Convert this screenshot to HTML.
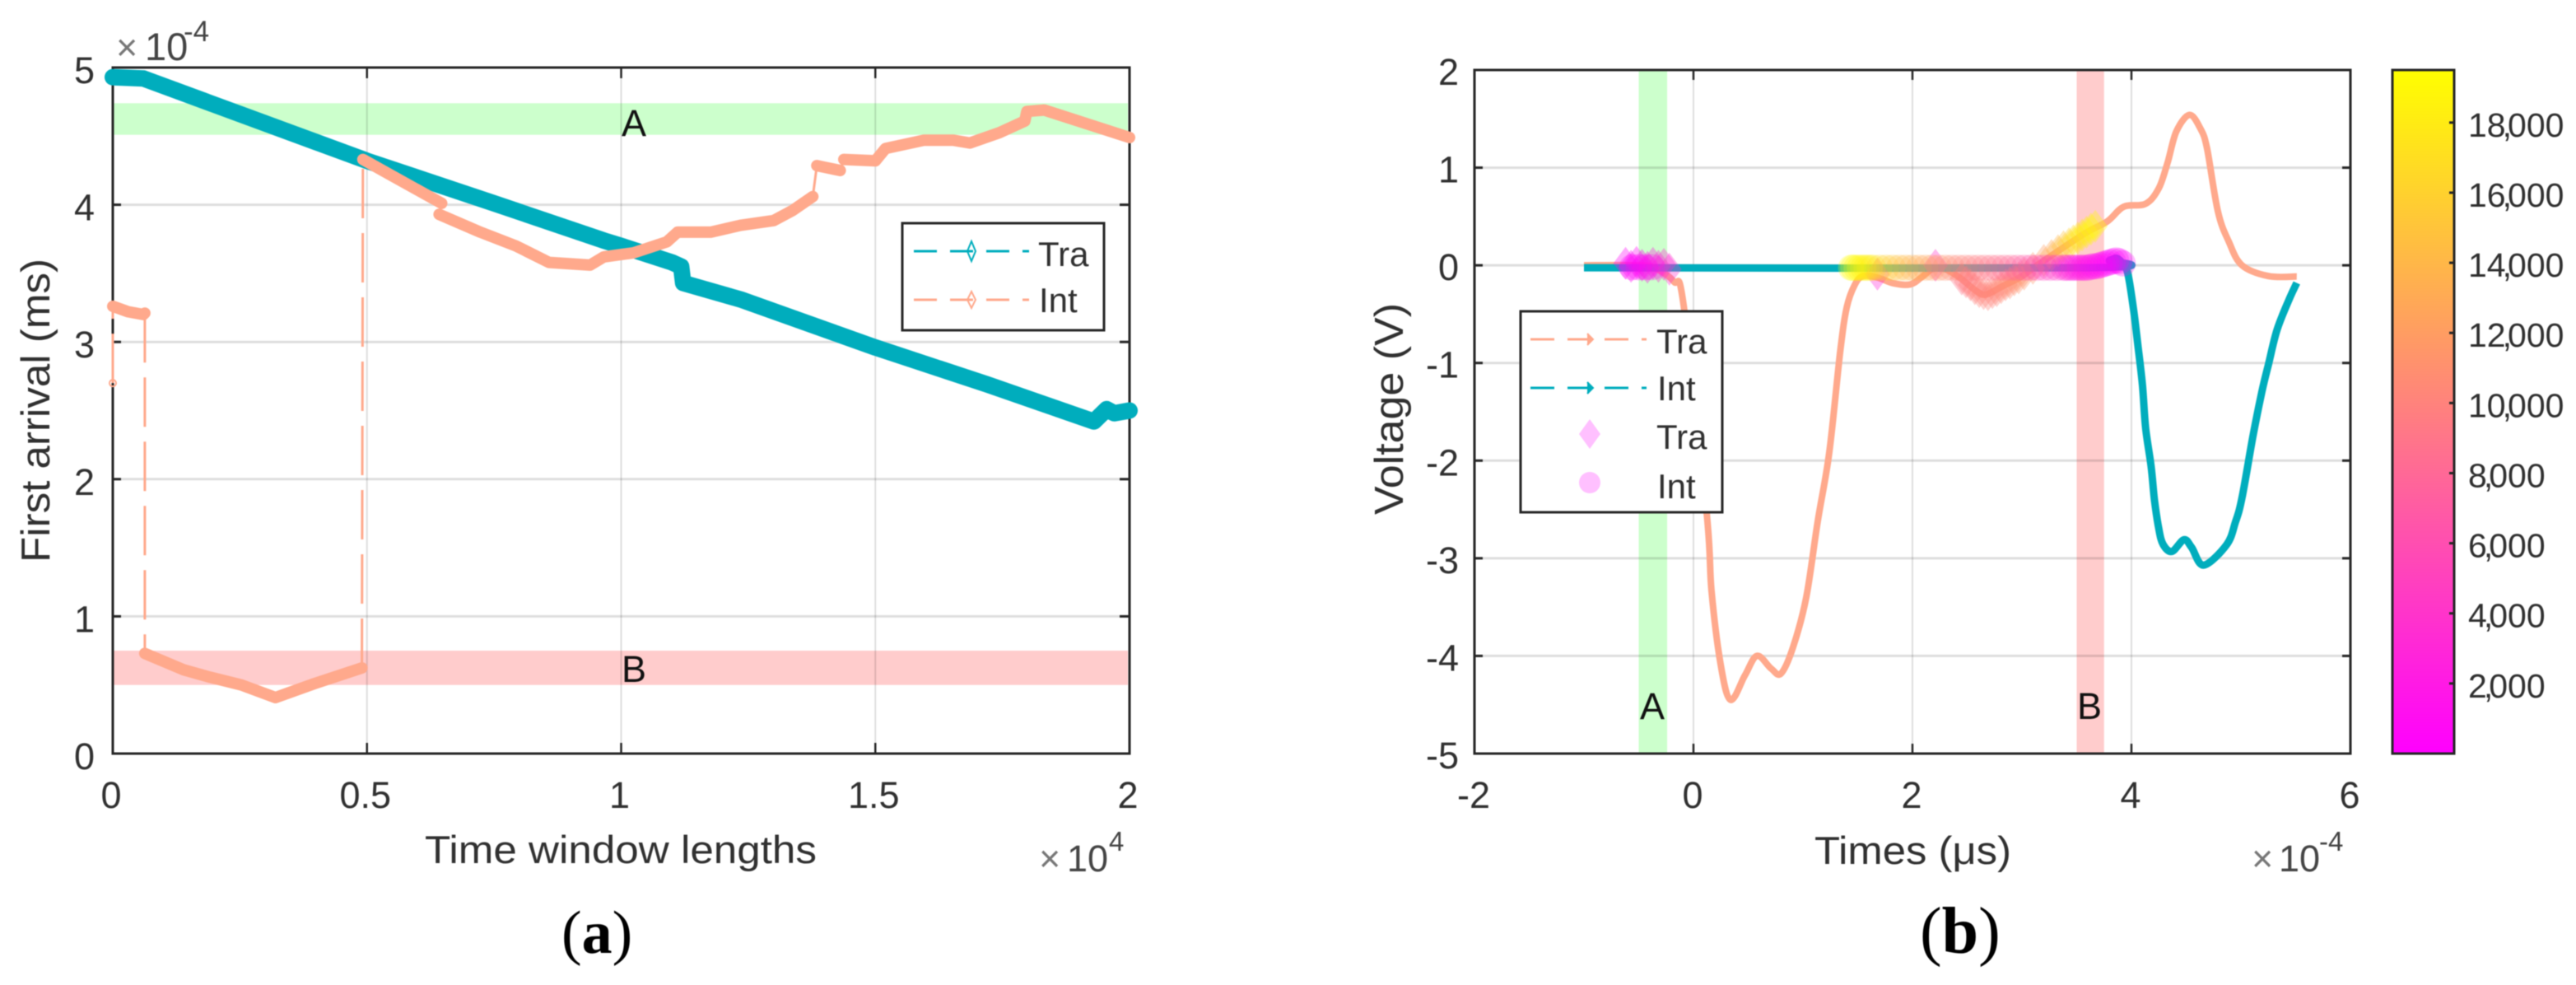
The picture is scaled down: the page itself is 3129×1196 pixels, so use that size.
<!DOCTYPE html>
<html lang="en">
<head>
<meta charset="utf-8">
<title>First arrival and voltage charts</title>
<style>
html,body{margin:0;padding:0;background:#fff;}
svg{display:block;filter:blur(0.6px);}
text{font-family:"Liberation Sans",Arial,sans-serif;fill:#303030;}
</style>
</head>
<body>
<svg id="fig" xmlns="http://www.w3.org/2000/svg" width="3129" height="1196" viewBox="0 0 3129 1196">
  <defs>
    <linearGradient id="springMap" x1="0" y1="1" x2="0" y2="0">
      <stop offset="0" stop-color="#ff00ff"/>
      <stop offset="1" stop-color="#ffff00"/>
    </linearGradient>
  </defs>
  <rect x="0" y="0" width="3129" height="1196" fill="#ffffff"/>
  <g id="layerA"></g>
  <g id="layerB"></g>

  <!-- chart a text -->
  <text x="60" y="683" font-size="49" textLength="369" lengthAdjust="spacingAndGlyphs" transform="rotate(-90 60 683)">First arrival (ms)</text>
  <text x="516" y="1048" font-size="47" textLength="476" lengthAdjust="spacingAndGlyphs">Time window lengths</text>
  <g>
    <text x="141" y="73" font-size="45" style="fill:#777">×</text>
    <text x="176" y="73" font-size="47" style="fill:#444">10</text>
    <text x="223" y="50" font-size="35" style="fill:#444">-4</text>
  </g>
  <g>
    <text x="1262" y="1058" font-size="45" style="fill:#777">×</text>
    <text x="1296" y="1058" font-size="45" style="fill:#444">10</text>
    <text x="1347" y="1033" font-size="33" style="fill:#444">4</text>
  </g>
  <text x="770" y="165" font-size="45" text-anchor="middle" style="fill:#111">A</text>
  <text x="770" y="828" font-size="45" text-anchor="middle" style="fill:#111">B</text>
  <text x="682" y="1157" font-size="74" style="font-family:'Liberation Serif',serif;fill:#000">(<tspan font-weight="bold">a</tspan>)</text>

  <!-- legend a -->
  <g>
    <rect x="1096" y="271" width="245" height="130" fill="#fff" stroke="#262626" stroke-width="3"/>
    <line x1="1110" y1="305" x2="1250" y2="305" stroke="#00adbd" stroke-width="3" stroke-dasharray="28 16"/>
    <path d="M1180 293 L1185 305 L1180 317 L1175 305 Z" fill="none" stroke="#00adbd" stroke-width="2"/>
    <text x="1261" y="323" font-size="42">Tra</text>
    <line x1="1110" y1="364" x2="1250" y2="364" stroke="#ffa98c" stroke-width="3" stroke-dasharray="28 16"/>
    <path d="M1180 354 L1185 364 L1180 374 L1175 364 Z" fill="none" stroke="#ffa98c" stroke-width="2"/>
    <text x="1262" y="379" font-size="42">Int</text>
  </g>

  <!-- chart b text -->
  <text x="1704" y="625" font-size="49" textLength="257" lengthAdjust="spacingAndGlyphs" transform="rotate(-90 1704 625)">Voltage (V)</text>
  <text x="2204" y="1049" font-size="47" textLength="239" lengthAdjust="spacingAndGlyphs">Times (μs)</text>
  <g>
    <text x="2735" y="1058" font-size="45" style="fill:#777">×</text>
    <text x="2768" y="1058" font-size="45" style="fill:#444">10</text>
    <text x="2817" y="1033" font-size="33" style="fill:#444">-4</text>
  </g>
  <text x="2007" y="873" font-size="45" text-anchor="middle" style="fill:#111">A</text>
  <text x="2538" y="873" font-size="45" text-anchor="middle" style="fill:#111">B</text>
  <text x="2332" y="1157" font-size="80" style="font-family:'Liberation Serif',serif;fill:#000">(<tspan font-weight="bold">b</tspan>)</text>

  <!-- legend b -->
  <g>
    <rect x="1847" y="378" width="245" height="244" fill="#fff" stroke="#262626" stroke-width="3"/>
    <line x1="1859" y1="412" x2="2000" y2="412" stroke="#ffa98c" stroke-width="3" stroke-dasharray="29 16"/>
    <path d="M1928 405 L1935 412 L1928 419" fill="#ffa98c" stroke="#ffa98c" stroke-width="2"/>
    <text x="2012" y="429" font-size="42">Tra</text>
    <line x1="1859" y1="471" x2="2000" y2="471" stroke="#00adbd" stroke-width="3" stroke-dasharray="29 16"/>
    <path d="M1928 464 L1935 471 L1928 478" fill="#00adbd" stroke="#00adbd" stroke-width="2"/>
    <text x="2013" y="486" font-size="42">Int</text>
    <path d="M1931 509 L1944 527 L1931 545 L1918 527 Z" fill="#ffc0ff"/>
    <text x="2012" y="545" font-size="42">Tra</text>
    <circle cx="1931" cy="586" r="13" fill="#ffc0ff"/>
    <text x="2013" y="605" font-size="42">Int</text>
  </g>
</svg>

<script>
/* ---------- chart a data ---------- */
const aXTicks = [0, 0.5, 1, 1.5, 2];
const aXTickLabels = ['0', '0.5', '1', '1.5', '2'];
const aYTicks = [0, 1, 2, 3, 4, 5];
const aYTickLabels = ['0', '1', '2', '3', '4', '5'];
const aBandA = [4.51, 4.74];
const aBandB = [0.5, 0.75];
const traAWindow = [0, 0.06, 0.5, 0.75, 0.965, 1.0, 1.1, 1.118, 1.122, 1.235, 1.5, 1.72, 1.93, 1.955, 1.97, 2];
const traAArrival = [4.93, 4.92, 4.32, 4.01, 3.74, 3.7, 3.58, 3.55, 3.43, 3.31, 2.96, 2.69, 2.42, 2.51, 2.48, 2.5];
const intAWindow = [0, 0, 0.03, 0.06, 0.063, 0.063, 0.14, 0.191, 0.253, 0.32, 0.397, 0.49, 0.492, 0.55, 0.647, 0.642, 0.723, 0.793, 0.858, 0.939, 0.966, 1.025, 1.09, 1.111, 1.176, 1.235, 1.3, 1.338, 1.377, 1.385, 1.398, 1.431, 1.438, 1.5, 1.52, 1.595, 1.654, 1.686, 1.744, 1.794, 1.798, 1.832, 2];
const intAArrival = [2.7, 3.26, 3.22, 3.2, 3.21, 0.73, 0.61, 0.557, 0.5, 0.408, 0.51, 0.624, 4.33, 4.21, 4.01, 3.93, 3.8, 3.7, 3.58, 3.56, 3.62, 3.65, 3.73, 3.8, 3.8, 3.85, 3.885, 3.96, 4.06, 4.285, 4.275, 4.25, 4.33, 4.32, 4.41, 4.47, 4.47, 4.45, 4.525, 4.61, 4.68, 4.69, 4.49];
const intAJumps = [0, 4, 11, 14, 28, 31];

/* ---------- chart b data ---------- */
const bXTicks = [-2, 0, 2, 4, 6];
const bXTickLabels = ['-2', '0', '2', '4', '6'];
const bYTicks = [-5, -4, -3, -2, -1, 0, 1, 2];
const bYTickLabels = ['-5', '-4', '-3', '-2', '-1', '0', '1', '2'];
const bBandA = [-0.5, -0.24];
const bBandB = [3.5, 3.75];
const traBTime = [-1, -0.5, -0.35, -0.18, -0.09, 0.12, 0.165, 0.25, 0.34, 0.47, 0.58, 0.71, 0.8, 0.91, 1.03, 1.135, 1.24, 1.34, 1.4, 1.475, 1.55, 1.68, 1.83, 1.98, 2.08, 2.18, 2.3, 2.43, 2.58, 2.67, 2.83, 2.98, 3.1, 3.23, 3.58, 3.78, 3.93, 4.13, 4.25, 4.33, 4.41, 4.53, 4.63, 4.69, 4.79, 4.89, 5.01, 5.25, 5.51];
const traBVolt = [0, 0, -0.03, -0.166, -0.405, -2.53, -3.33, -4.1, -4.45, -4.2, -4.0, -4.13, -4.18, -3.91, -3.4, -2.62, -1.92, -0.885, -0.43, -0.195, -0.11, -0.125, -0.185, -0.195, -0.125, -0.04, -0.04, -0.125, -0.26, -0.3, -0.21, -0.125, -0.03, 0.07, 0.33, 0.45, 0.6, 0.63, 0.79, 1.05, 1.37, 1.54, 1.4, 1.2, 0.55, 0.24, 0, -0.11, -0.115];
const intBTime = [-1, 3.6, 3.8, 3.87, 3.93, 3.97, 4.02, 4.06, 4.1, 4.13, 4.18, 4.21, 4.25, 4.29, 4.37, 4.48, 4.55, 4.66, 4.87, 4.95, 5.01, 5.11, 5.19, 5.25, 5.33, 5.44, 5.51];
const intBVolt = [-0.025, -0.025, 0.05, 0.07, 0, -0.1, -0.46, -0.83, -1.22, -1.67, -2.06, -2.4, -2.7, -2.86, -2.93, -2.81, -2.89, -3.07, -2.86, -2.63, -2.38, -1.75, -1.3, -1.02, -0.66, -0.35, -0.18];

const scatterIntTime = [-0.56, -0.5, -0.44, -0.38, 1.44, 1.46, 1.49, 1.52, 1.55, 1.58, 1.61, 1.64, 1.7, 1.76, 1.82, 1.88, 1.94, 2.0, 2.06, 2.12, 2.18, 2.24, 2.3, 2.36, 2.42, 2.48, 2.54, 2.6, 2.66, 2.72, 2.78, 2.84, 2.9, 2.96, 3.02, 3.08, 3.14, 3.2, 3.26, 3.32, 3.38, 3.41, 3.44, 3.47, 3.5, 3.53, 3.56, 3.59, 3.62, 3.65, 3.68, 3.71, 3.74, 3.77, 3.8, 3.83, 3.86, 3.89, 3.92];
const scatterIntVolt = [-0.02, -0.02, -0.02, -0.02, -0.025, -0.025, -0.025, -0.025, -0.025, -0.025, -0.025, -0.025, -0.025, -0.025, -0.025, -0.025, -0.025, -0.025, -0.025, -0.025, -0.025, -0.025, -0.025, -0.025, -0.025, -0.025, -0.025, -0.025, -0.025, -0.025, -0.025, -0.025, -0.025, -0.025, -0.025, -0.025, -0.025, -0.025, -0.025, -0.025, -0.025, -0.025, -0.025, -0.025, -0.025, -0.025, -0.025, -0.025, -0.02, -0.01, -0.01, 0, 0.01, 0.02, 0.03, 0.04, 0.05, 0.04, 0.02];
const scatterIntValue = [400, 700, 900, 1300, 19400, 19200, 19000, 18900, 18700, 18500, 18200, 17900, 16500, 15900, 15400, 14500, 14100, 13700, 13000, 12600, 12200, 11600, 11000, 10700, 10400, 10100, 9900, 9500, 9200, 8800, 8500, 8300, 8000, 7400, 6800, 6200, 5600, 5000, 4300, 3800, 3100, 2900, 2600, 2400, 2200, 1900, 1700, 1500, 1200, 1000, 800, 700, 500, 400, 300, 250, 200, 150, 100];

const scatterTraTime = [-0.62, -0.57, -0.52, -0.47, -0.42, -0.37, -0.32, -0.27, -0.22, 1.68, 2.21, 2.45, 2.49, 2.53, 2.57, 2.61, 2.65, 2.69, 2.73, 2.77, 2.81, 2.85, 2.89, 2.93, 2.97, 3.02, 3.1, 3.2, 3.27, 3.33, 3.38, 3.43, 3.47, 3.51, 3.55, 3.59, 3.63, 3.67];
const scatterTraVolt = [0.02, -0.01, 0.03, 0, -0.02, 0.02, -0.01, 0.01, -0.04, -0.09, 0, -0.14, -0.17, -0.2, -0.24, -0.27, -0.29, -0.3, -0.28, -0.26, -0.23, -0.2, -0.18, -0.15, -0.13, -0.09, -0.03, 0.05, 0.1, 0.15, 0.19, 0.22, 0.25, 0.28, 0.31, 0.34, 0.37, 0.4];
const scatterTraValue = [500, 700, 800, 1000, 1300, 2000, 2600, 3000, 3500, 3000, 4000, 9000, 9300, 9600, 9800, 10000, 10000, 10200, 10200, 10300, 10500, 10500, 10800, 11000, 11200, 11400, 11500, 12000, 13000, 14000, 15000, 16000, 16800, 17500, 18000, 18500, 19000, 19200];

const colorbarTicks = [2000, 4000, 6000, 8000, 10000, 12000, 14000, 16000, 18000];
const colorbarTickLabels = ['2,000', '4,000', '6,000', '8,000', '10,000', '12,000', '14,000', '16,000', '18,000'];
const colorbarRange = [0, 19500];

/* ---------- geometry ---------- */
const NS = 'http://www.w3.org/2000/svg';
const TEAL = '#00adbd';
const SALMON = '#ffa98c';
const AXIS = '#262626';
const A = {l: 137, r: 1372, t: 82, b: 915};
const B = {l: 1791, r: 2855, t: 85, b: 915};
const C = {l: 2906, r: 2981, t: 85, b: 915};
const xA = v => A.l + (v / 2) * (A.r - A.l);
const yA = v => A.b - (v / 5) * (A.b - A.t);
const xB = v => B.l + ((v + 2) / 8) * (B.r - B.l);
const yB = v => B.b - ((v + 5) / 7) * (B.b - B.t);
const yC = v => C.b - ((v - colorbarRange[0]) / (colorbarRange[1] - colorbarRange[0])) * (C.b - C.t);
const springColor = v => {
  const f = Math.max(0, Math.min(1, (v - colorbarRange[0]) / (colorbarRange[1] - colorbarRange[0])));
  return 'rgb(255,' + Math.round(255 * f) + ',' + Math.round(255 * (1 - f)) + ')';
};

function mk(parent, tag, attrs, txt) {
  const el = document.createElementNS(NS, tag);
  for (const k in attrs) el.setAttribute(k, attrs[k]);
  if (txt !== undefined) el.textContent = txt;
  parent.appendChild(el);
  return el;
}
function linePath(xs, ys, fx, fy) {
  return xs.map((v, i) => (i ? 'L' : 'M') + fx(v).toFixed(1) + ' ' + fy(ys[i]).toFixed(1)).join(' ');
}
/* Catmull-Rom smoothing so the voltage traces read as continuous curves */
function smoothPath(xs, ys, fx, fy) {
  const px = xs.map(fx);
  const py = ys.map(fy);
  let d = 'M' + px[0].toFixed(1) + ' ' + py[0].toFixed(1);
  for (let i = 0; i < px.length - 1; i++) {
    const a = Math.max(0, i - 1);
    const c = i + 1;
    const e = Math.min(px.length - 1, i + 2);
    const c1x = px[i] + (px[c] - px[a]) / 6;
    const c1y = py[i] + (py[c] - py[a]) / 6;
    const c2x = px[c] - (px[e] - px[i]) / 6;
    const c2y = py[c] - (py[e] - py[i]) / 6;
    d += 'C' + c1x.toFixed(1) + ' ' + c1y.toFixed(1) + ' ' + c2x.toFixed(1) + ' ' + c2y.toFixed(1) + ' ' + px[c].toFixed(1) + ' ' + py[c].toFixed(1);
  }
  return d;
}

const layerA = document.getElementById('layerA');
const layerB = document.getElementById('layerB');

/* ---------- chart a ---------- */
const bandATop = mk(layerA, 'rect', {x: A.l, y: yA(aBandA[1]), width: A.r - A.l - 2, height: yA(aBandA[0]) - yA(aBandA[1]), fill: '#ccffcc'});


const bandBBottom = mk(layerA, 'rect', {x: A.l, y: yA(aBandB[1]), width: A.r - A.l - 2, height: yA(aBandB[0]) - yA(aBandB[1]), fill: '#ffcccc'});



aXTicks.forEach((v, i) => {
  const x = xA(v);
  if (i > 0 && i < aXTicks.length - 1) {
    const grid = mk(layerA, 'line', {x1: x, x2: x, y1: A.t, y2: A.b, stroke: '#000', 'stroke-opacity': 0.13, 'stroke-width': 2});
    
    
    const t1 = mk(layerA, 'line', {x1: x, x2: x, y1: A.b, y2: A.b - 13, stroke: AXIS, 'stroke-width': 2.5});
    
    
    const t2 = mk(layerA, 'line', {x1: x, x2: x, y1: A.t, y2: A.t + 13, stroke: AXIS, 'stroke-width': 2.5});
    
    
  }
  const lab = mk(layerA, 'text', {x: x - 2, y: 981, 'font-size': 45, 'text-anchor': 'middle'}, aXTickLabels[i]);
  
  
});
aYTicks.forEach((v, i) => {
  const y = yA(v);
  if (i > 0 && i < aYTicks.length - 1) {
    const grid = mk(layerA, 'line', {x1: A.l, x2: A.r, y1: y, y2: y, stroke: '#000', 'stroke-opacity': 0.13, 'stroke-width': 3});
    
    
    const t1 = mk(layerA, 'line', {x1: A.l, x2: A.l + 10, y1: y, y2: y, stroke: AXIS, 'stroke-width': 3});
    
    
    const t2 = mk(layerA, 'line', {x1: A.r, x2: A.r - 12, y1: y, y2: y, stroke: AXIS, 'stroke-width': 3});
    
    
  }
  const lab = mk(layerA, 'text', {x: 115, y: y + 19, 'font-size': 45, 'text-anchor': 'end'}, aYTickLabels[i]);
  
  
});
const frameA = mk(layerA, 'rect', {x: A.l, y: A.t, width: A.r - A.l, height: A.b - A.t, fill: 'none', stroke: AXIS, 'stroke-width': 3});



const traALine = mk(layerA, 'path', {d: linePath(traAWindow, traAArrival, xA, yA), fill: 'none', stroke: TEAL, 'stroke-width': 20, 'stroke-linejoin': 'round', 'stroke-linecap': 'round'});



let segStart = 0;
const intABreaks = intAJumps.concat([intAWindow.length - 1]);
intABreaks.forEach((jump, k) => {
  if (jump > segStart) {
    const seg = mk(layerA, 'path', {d: linePath(intAWindow.slice(segStart, jump + 1), intAArrival.slice(segStart, jump + 1), xA, yA), fill: 'none', stroke: SALMON, 'stroke-width': 14, 'stroke-linejoin': 'round', 'stroke-linecap': 'round'});
    
    
  }
  if (k < intAJumps.length) {
    const conn = mk(layerA, 'line', {x1: xA(intAWindow[jump]), y1: yA(intAArrival[jump]), x2: xA(intAWindow[jump + 1]), y2: yA(intAArrival[jump + 1]), stroke: SALMON, 'stroke-width': 3, 'stroke-dasharray': '60 18'});
    
    
  }
  segStart = jump + 1;
});
const intAStart = mk(layerA, 'circle', {cx: xA(intAWindow[0]), cy: yA(intAArrival[0]), r: 4, fill: 'none', stroke: SALMON, 'stroke-width': 2});



/* ---------- chart b ---------- */
const bandALeft = mk(layerB, 'rect', {x: xB(bBandA[0]), y: B.t, width: xB(bBandA[1]) - xB(bBandA[0]), height: B.b - B.t, fill: '#ccffcc'});


const bandBRight = mk(layerB, 'rect', {x: xB(bBandB[0]), y: B.t, width: xB(bBandB[1]) - xB(bBandB[0]), height: B.b - B.t, fill: '#ffcccc'});



bXTicks.forEach((v, i) => {
  const x = xB(v);
  if (i > 0 && i < bXTicks.length - 1) {
    const grid = mk(layerB, 'line', {x1: x, x2: x, y1: B.t, y2: B.b, stroke: '#000', 'stroke-opacity': 0.13, 'stroke-width': 2});
    
    
    const t1 = mk(layerB, 'line', {x1: x, x2: x, y1: B.b, y2: B.b - 12, stroke: AXIS, 'stroke-width': 2.5});
    
    
    const t2 = mk(layerB, 'line', {x1: x, x2: x, y1: B.t, y2: B.t + 12, stroke: AXIS, 'stroke-width': 2.5});
    
    
  }
  const lab = mk(layerB, 'text', {x: x - 1, y: 981, 'font-size': 45, 'text-anchor': 'middle'}, bXTickLabels[i]);
  
  
});
bYTicks.forEach((v, i) => {
  const y = yB(v);
  if (i > 0 && i < bYTicks.length - 1) {
    const grid = mk(layerB, 'line', {x1: B.l, x2: B.r, y1: y, y2: y, stroke: '#000', 'stroke-opacity': 0.13, 'stroke-width': 3});
    
    
    const t1 = mk(layerB, 'line', {x1: B.l, x2: B.l + 10, y1: y, y2: y, stroke: AXIS, 'stroke-width': 3});
    
    
    const t2 = mk(layerB, 'line', {x1: B.r, x2: B.r - 10, y1: y, y2: y, stroke: AXIS, 'stroke-width': 3});
    
    
  }
  const lab = mk(layerB, 'text', {x: 1772, y: y + 18, 'font-size': 45, 'text-anchor': 'end'}, bYTickLabels[i]);
  
  
});
const frameB = mk(layerB, 'rect', {x: B.l, y: B.t, width: B.r - B.l, height: B.b - B.t, fill: 'none', stroke: AXIS, 'stroke-width': 3});



const traBLine = mk(layerB, 'path', {d: smoothPath(traBTime, traBVolt, xB, yB), fill: 'none', stroke: SALMON, 'stroke-width': 8, 'stroke-linejoin': 'round'});


const intBLine = mk(layerB, 'path', {d: smoothPath(intBTime, intBVolt, xB, yB), fill: 'none', stroke: TEAL, 'stroke-width': 9, 'stroke-linejoin': 'round'});



scatterTraTime.forEach((t, i) => {
  const cx = xB(t);
  const cy = yB(scatterTraVolt[i]);
  const d = 'M' + cx + ' ' + (cy - 20) + 'L' + (cx + 15) + ' ' + cy + 'L' + cx + ' ' + (cy + 20) + 'L' + (cx - 15) + ' ' + cy + 'Z';
  const mark = mk(layerB, 'path', {d: d, fill: springColor(scatterTraValue[i]), 'fill-opacity': 0.34});
  
  
});
scatterIntTime.forEach((t, i) => {
  const dot = mk(layerB, 'circle', {cx: xB(t), cy: yB(scatterIntVolt[i]), r: 16, fill: springColor(scatterIntValue[i]), 'fill-opacity': 0.26});
  
  
});

/* ---------- colorbar ---------- */
const cbar = mk(layerB, 'rect', {x: C.l, y: C.t, width: C.r - C.l, height: C.b - C.t, fill: 'url(#springMap)', stroke: AXIS, 'stroke-width': 3});


colorbarTicks.forEach((v, i) => {
  const y = yC(v);
  const tick = mk(layerB, 'line', {x1: C.r, x2: C.r - 6, y1: y, y2: y, stroke: AXIS, 'stroke-width': 3});
  
  
  const parts = colorbarTickLabels[i].split(',');
  const lab = mk(layerB, 'text', {x: 2998, y: y + 17, 'font-size': 41});
  
  
  mk(lab, 'tspan', {}, parts[0]);
  mk(lab, 'tspan', {dx: -4}, ',');
  mk(lab, 'tspan', {dx: -5}, parts[1]);
});
</script>
</body>
</html>
